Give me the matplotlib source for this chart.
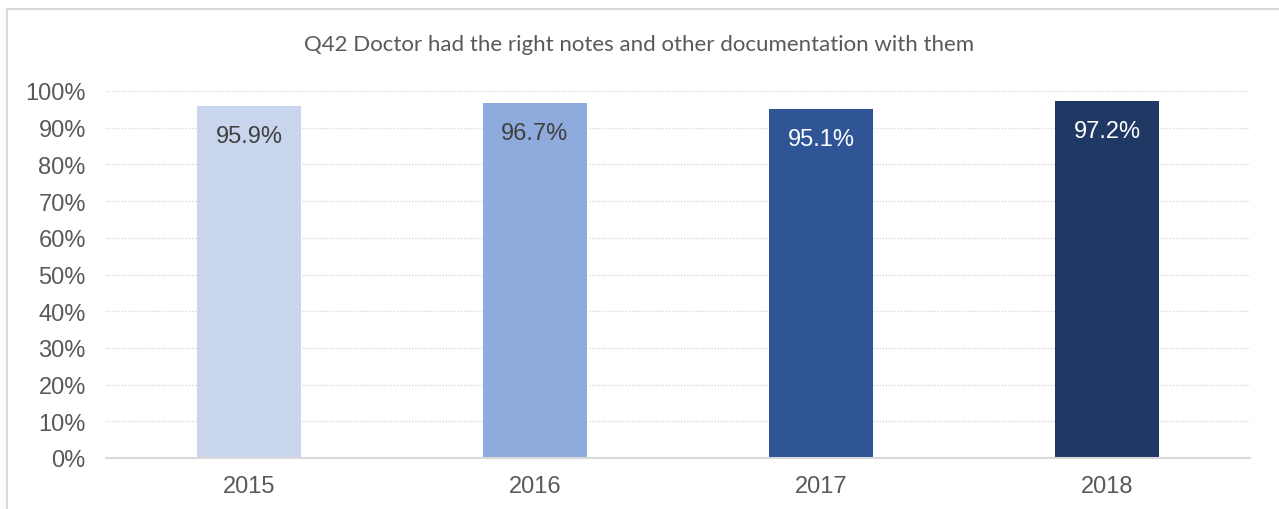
import matplotlib
matplotlib.use("Agg")
import matplotlib.pyplot as plt
from matplotlib.patches import Rectangle
from matplotlib.ticker import PercentFormatter

title = "Q42 Doctor had the right notes and other documentation with them"
years = ["2015", "2016", "2017", "2018"]
values = [95.9, 96.7, 95.1, 97.2]
bar_colors = ["#C9D5EC", "#8FAADC", "#2F5597", "#203864"]
label_colors = ["#404040", "#404040", "#FFFFFF", "#FFFFFF"]
y_ticks = [0, 10, 20, 30, 40, 50, 60, 70, 80, 90, 100]

W, H, DPI = 1279, 510, 100
fig = plt.figure(figsize=(W / DPI, H / DPI), dpi=DPI)
fig.patch.set_facecolor("white")

# outer chart frame (right and bottom edges fall outside the canvas)
fig.add_artist(Rectangle((6.5 / W, -0.1), 1.2, 1 - 9.5 / H + 0.1,
                         transform=fig.transFigure, fill=False,
                         edgecolor="#D9D9D9", linewidth=1.5))

ax = fig.add_axes([106 / W, 1 - 459 / H, (1250 - 106) / W, (459 - 92) / H])
x = list(range(len(years)))
bars = ax.bar(x, values, width=0.367, color=bar_colors, zorder=3)
ax.set_xlim(-0.5, len(years) - 0.5)
ax.set_ylim(0, 100)
ax.set_yticks(y_ticks)
ax.yaxis.set_major_formatter(PercentFormatter(decimals=0))
ax.set_xticks(x)
ax.set_xticklabels(years)

font = "Liberation Sans"
for lbl in ax.get_yticklabels() + ax.get_xticklabels():
    lbl.set_fontfamily(font)
    lbl.set_fontsize(17)
    lbl.set_color("#595959")
ax.tick_params(axis="both", length=0)
ax.tick_params(axis="y", pad=14.5)
ax.tick_params(axis="x", pad=12)

for y in y_ticks[1:]:
    ax.axhline(y, color="#D9D9D9", linewidth=1.0, linestyle=(0, (1, 1.2)), zorder=1)
for s in ["top", "right", "left"]:
    ax.spines[s].set_visible(False)
ax.spines["bottom"].set_color("#D9D9D9")
ax.spines["bottom"].set_linewidth(1.5)
ax.spines["bottom"].set_zorder(4)

for rect, v, c in zip(bars, values, label_colors):
    ax.annotate(f"{v:.1f}%", (rect.get_x() + rect.get_width() / 2, v),
                xytext=(0, -13.5), textcoords="offset points",
                ha="center", va="top", fontsize=17, color=c, family=font, zorder=5)

fig.text(0.5, 1 - 45 / H, title, ha="center", va="center",
         fontsize=16, color="#595959", family="Lato")

fig.savefig("out.png", dpi=DPI, facecolor="white")
